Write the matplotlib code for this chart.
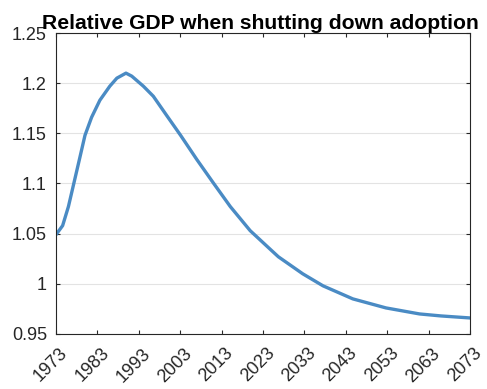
import numpy as np
import matplotlib
matplotlib.use('Agg')
import matplotlib.pyplot as plt
from matplotlib.transforms import ScaledTranslation

plt.rcParams['font.family'] = ['Liberation Sans', 'DejaVu Sans']

# values
years = [1973, 1974.6, 1976, 1977.3, 1978.6, 1980, 1981.6, 1983.6, 1986, 1987.7,
         1989.9, 1991.3, 1994.1, 1996.5, 1999.7, 2003.1, 2007, 2011.1,
         2015.1, 2019.9, 2024.6, 2026.7, 2032.6, 2037.5, 2044.7, 2052.7,
         2060.8, 2066, 2073]
gdp = [1.049, 1.058, 1.077, 1.100, 1.123, 1.148, 1.166, 1.183, 1.197, 1.205,
       1.210, 1.207, 1.197, 1.187, 1.168, 1.148, 1.124, 1.100,
       1.077, 1.053, 1.035, 1.027, 1.010, 0.998, 0.985, 0.976,
       0.970, 0.968, 0.966]
xticks = np.arange(1973, 2074, 10)
yticks = [0.95, 1, 1.05, 1.1, 1.15, 1.2, 1.25]
ylabels = ['0.95', '1', '1.05', '1.1', '1.15', '1.2', '1.25']

fig = plt.figure(figsize=(4.87, 3.89), dpi=100)
ax = fig.add_axes([56/487, 1 - 334/389, 414/487, 301/389])

ax.plot(years, gdp, color='#4a8bc4', lw=2.4, solid_capstyle='round',
        solid_joinstyle='round')

ax.set_xlim(1973, 2073)
ax.set_ylim(0.95, 1.25)
ax.set_xticks(xticks)
ax.set_xticklabels([str(y) for y in xticks], rotation=45, ha='right',
                   rotation_mode='anchor')
ax.set_yticks(yticks)
ax.set_yticklabels(ylabels)
ax.yaxis.grid(True, color='#e3e3e3', lw=0.8)
ax.set_axisbelow(True)
ax.tick_params(direction='in', top=True, right=True, length=3,
               labelsize=13, colors='#262626', width=0.8)
ax.tick_params(axis='y', pad=6.5)

# nudge the rotated year labels down and right, like the reference
shift = ScaledTranslation(3/100, -6/100, fig.dpi_scale_trans)
for lbl in ax.get_xticklabels():
    lbl.set_transform(lbl.get_transform() + shift)

for s in ax.spines.values():
    s.set_color('#262626')
    s.set_linewidth(0.8)

ax.set_title('Relative GDP when shutting down adoption', fontsize=15.2,
             fontweight='bold', pad=3, x=(260.5 - 56) / 414)

fig.savefig('out.png', dpi=100)
